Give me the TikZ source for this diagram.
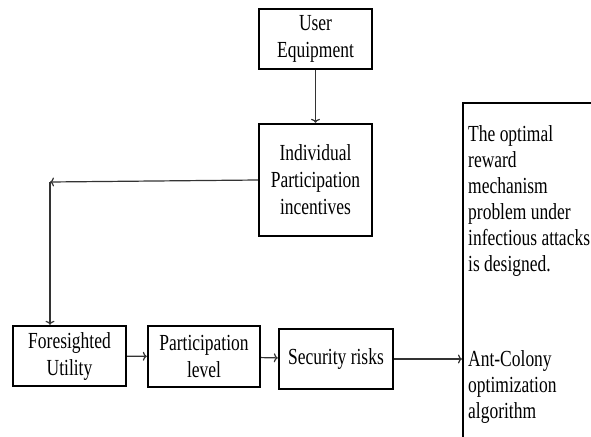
\documentclass[tikz,border=0pt]{standalone}
\usepackage{fontspec}
\setmainfont[FakeStretch=0.76]{Liberation Serif}
\usetikzlibrary{arrows.meta}

\begin{document}
\begin{tikzpicture}[x = 1pt, y = -1pt,
    box/.style = {draw, line width = 2.4pt, align = center, inner sep = 0pt,
                  minimum width = 113pt, minimum height = 60pt,
                  font = \fontsize{23}{27}\selectfont},
    note/.style = {anchor = base west, align = left, inner sep = 0pt,
                   font = \fontsize{23}{26}\selectfont},
    flow/.style = {-{To[length = 4pt, width = 9pt]}, draw = black!80, line width = 1.2pt}]
    \useasboundingbox (0,0) rectangle (591,436);
    \clip (0,0) rectangle (591,436);
    \node[box] (UE) at (315.5,39) {User\\Equipment};
    \node[box, minimum height = 112pt] (IPI) at (315.5,180) {Individual\\Participation\\incentives};
    \node[box] (FU) at (69.5,356) {Foresighted\\Utility};
    \node[box, minimum width = 112pt, minimum height = 61pt] (PL) at (204,356.5) {Participation\\level};
    \node[box, minimum width = 114pt] (SR) at (336,359) {Security risks};
    \node[draw, line width = 2.4pt, anchor = north west, minimum width = 200pt, minimum height = 400pt] (ACO) at (462,102) {};
    % base anchor sits on the last line
    \node[note] (goal) at (468,271) {The optimal\\reward\\mechanism\\problem under\\infectious attacks\\is designed.};
    \node[note] (algo) at (468,418) {Ant-Colony\\optimization\\algorithm};
    \coordinate (turn) at (50,182);
    \draw[flow] (UE) -- (IPI);
    \draw[flow] (IPI.west) -- (turn);
    \draw[flow] (turn) -- (turn |- FU.north);
    \draw[flow] (FU) -- (PL);
    \draw[flow] (PL) -- (SR);
    \draw[flow] (SR) -- (SR.east -| ACO.west);
\end{tikzpicture}
\end{document}
